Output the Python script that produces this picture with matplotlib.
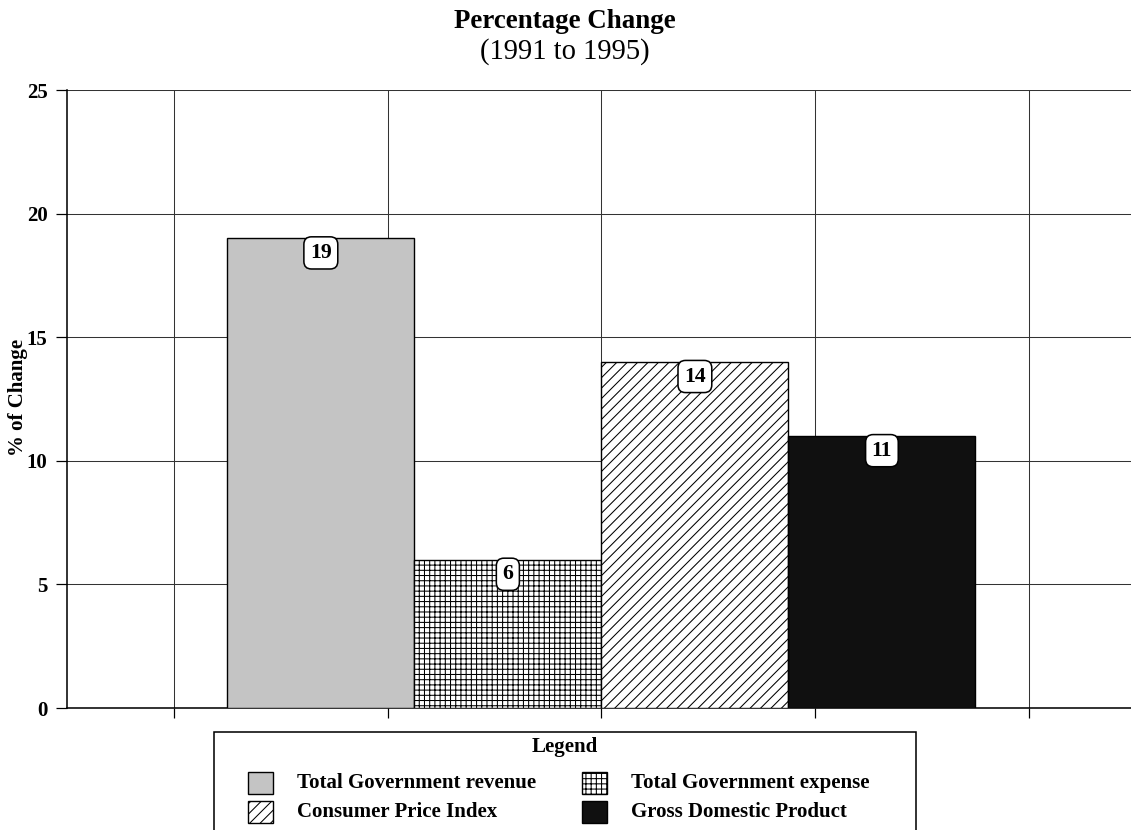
import matplotlib
matplotlib.use("Agg")
import matplotlib.pyplot as plt
from matplotlib.patches import Rectangle

# ---- data ----
categories = ["Total Government revenue", "Total Government expense",
              "Consumer Price Index", "Gross Domestic Product"]
values = [19, 6, 14, 11]
yticks = [0, 5, 10, 15, 20, 25]

# ---- styling per series ----
faces = ["#c4c4c4", "white", "white", "#101010"]
hatches = [None, "++++", "////", None]

plt.rcParams["font.family"] = ["Liberation Serif", "DejaVu Serif"]
plt.rcParams["hatch.linewidth"] = 0.6

DPI = 125
W, H = 1131, 830
fig = plt.figure(figsize=(W / DPI, H / DPI), dpi=DPI)

# plot area (pixel-based placement)
left_px, right_px, top_px, bottom_px = 67, 1135.75, 90, 708
ax = fig.add_axes([left_px / W, (H - bottom_px) / H,
                   (right_px - left_px) / W, (bottom_px - top_px) / H])

width = 0.875
n = len(values)
xpos = [3 + (i - (n - 1) / 2) * width for i in range(n)]

bars = ax.bar(xpos, values, width=width, color=faces, edgecolor="black",
              linewidth=0.8, zorder=3)
for b, h in zip(bars, hatches):
    if h:
        b.set_hatch(h)

# value labels in rounded boxes just below each bar top
for x, v in zip(xpos, values):
    ax.annotate(str(v), xy=(x, v), xytext=(0, -8.4), textcoords="offset points",
                ha="center", va="center", fontsize=12.5, fontweight="bold",
                zorder=5,
                bbox=dict(boxstyle="round,pad=0.28,rounding_size=0.35",
                          fc="white", ec="black", lw=0.9))

ax.set_xlim(0.5, 5.5)
ax.set_ylim(0, 25)
ax.set_yticks(yticks)
ax.set_yticklabels([str(t) for t in yticks], fontsize=12, fontweight="bold")
ax.set_xticks([1, 2, 3, 4, 5])
ax.set_xticklabels([])
ax.tick_params(axis="y", direction="out", length=6.3, width=0.7, pad=5)
ax.tick_params(axis="x", direction="out", length=5.8, width=0.7)

ax.grid(True, color="#333333", linewidth=0.6, zorder=0)
ax.set_axisbelow(True)
for side in ["top", "right"]:
    ax.spines[side].set_visible(False)
ax.spines["left"].set_linewidth(0.9)
ax.spines["bottom"].set_linewidth(0.9)

# titles
fig.text(565 / W, (H - 21) / H, "Percentage Change", ha="center", va="center",
         fontsize=15.5, fontweight="bold")
fig.text(565 / W, (H - 52) / H, "(1991 to 1995)", ha="center", va="center",
         fontsize=16.5)
fig.text(18 / W, (H - 397) / H, "% of Change", ha="center", va="center",
         rotation=90, fontsize=12, fontweight="bold")

# legend box drawn in figure pixels
def fx(px):
    return px / W


def fy(py):
    return (H - py) / H


fig.patches.append(Rectangle((fx(214), fy(840)), fx(916) - fx(214),
                             fy(732) - fy(840), transform=fig.transFigure,
                             fill=False, ec="black", lw=0.9))
fig.text(fx(565), fy(747), "Legend", ha="center", va="center",
         fontsize=12, fontweight="bold")

slots = [(248, 783), (582, 783), (248, 812), (582, 812)]
pw, ph = 25, 22
for (px, py), lab, fc, h in zip(slots, categories, faces, hatches):
    r = Rectangle((fx(px), fy(py + ph / 2)), fx(px + pw) - fx(px),
                  fy(py - ph / 2) - fy(py + ph / 2), transform=fig.transFigure,
                  fc=fc, ec="black", lw=0.8, hatch=h)
    fig.patches.append(r)
    fig.text(fx(px + 49), fy(py), lab, ha="left", va="center",
             fontsize=12, fontweight="bold")

fig.savefig("out.png", dpi=DPI)
